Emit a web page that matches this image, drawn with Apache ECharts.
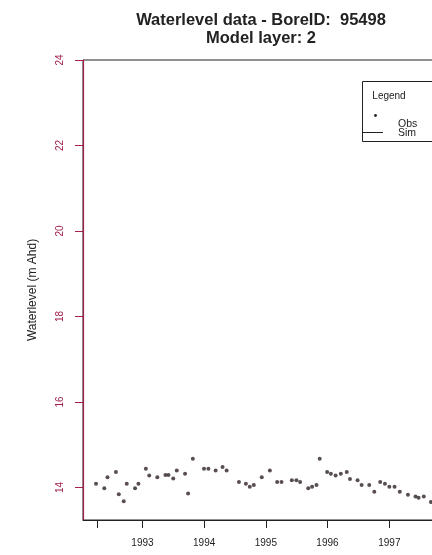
<!DOCTYPE html>
<html>
<head>
<meta charset="utf-8">
<script src="https://cdn.jsdelivr.net/npm/echarts@6/dist/echarts.min.js"></script>
<style>html,body{margin:0;padding:0;background:#fff}#c{width:432px;height:555px}</style>
</head>
<body>
<div id="c"></div>
<script>
const obsDates = [
  '1992-04-01','1992-05-20','1992-06-08','1992-07-28','1992-08-14','1992-09-12','1992-09-30','1992-11-18','1992-12-08',
  '1993-01-21','1993-02-10','1993-03-30','1993-05-17','1993-06-04','1993-07-02','1993-07-23','1993-09-10','1993-09-28','1993-10-26','1993-12-31',
  '1994-01-26','1994-03-10','1994-04-20','1994-05-14','1994-07-26','1994-09-05','1994-09-28','1994-10-22','1994-12-08',
  '1995-01-25','1995-03-09','1995-04-04','1995-06-04','1995-07-01','1995-07-23','1995-09-09','1995-10-02','1995-10-28','1995-11-16','1995-12-30',
  '1996-01-21','1996-02-18','1996-03-20','1996-04-24','1996-05-13','1996-06-27','1996-07-21','1996-09-04','1996-10-04','1996-11-08','1996-12-06',
  '1997-01-01','1997-02-01','1997-03-04','1997-04-21','1997-06-05','1997-06-23','1997-07-24','1997-09-04'
];
const obsLevels = [
  14.09,13.98,14.24,14.36,13.84,13.68,14.09,13.98,14.09,
  14.44,14.28,14.24,14.29,14.29,14.21,14.40,14.32,13.86,14.67,14.44,
  14.44,14.40,14.48,14.40,14.13,14.09,14.02,14.06,14.24,
  14.40,14.13,14.13,14.17,14.17,14.13,13.98,14.02,14.06,14.67,14.36,
  14.32,14.28,14.32,14.36,14.20,14.17,14.06,14.06,13.90,14.13,14.09,
  14.02,14.02,13.90,13.83,13.79,13.76,13.79,13.66
];
const simDates = [];
const simLevels = [];
const yTicks = [14, 16, 18, 20, 22, 24];
const xTickYears = [1993, 1994, 1995, 1996, 1997];
const firstTickDate = '1992-04-08';

const chart = echarts.init(document.getElementById('c'));
const ts = s => { const p = s.split('-'); return Date.UTC(+p[0], +p[1]-1, +p[2]); };
const yearTs = xTickYears.map(y => Date.UTC(y, 0, 1));
const crimson = '#a3204a';
const font = 'Liberation Sans';

chart.setOption({
  animation: false,
  backgroundColor: '#fff',
  title: [{
    text: 'Waterlevel data - BoreID:  95498\nModel layer: 2',
    left: 256, top: 6, textAlign: 'center',
    textStyle: {fontFamily: font, fontSize: 16.5, fontWeight: 'bold', color: '#222', lineHeight: 18}
  }],
  grid: {left: 83, top: 60, bottom: 35, width: 368, outerBoundsMode: 'none', show: true, borderColor: '#222', borderWidth: 1, containLabel: false},
  xAxis: {
    type: 'value', scale: true,
    min: ts('1992-01-15'), max: ts('1998-01-01'),
    axisLine: {show: true, lineStyle: {color: '#222', width: 1}},
    axisTick: {show: true, length: 8, lineStyle: {color: '#222'}, customValues: [ts(firstTickDate)].concat(yearTs)},
    axisLabel: {customValues: yearTs, formatter: v => String(new Date(v).getUTCFullYear()),
      margin: 18, fontFamily: font, fontSize: 10, color: '#222'},
    splitLine: {show: false}
  },
  yAxis: {
    type: 'value', min: 13.24, max: 24,
    name: 'Waterlevel (m Ahd)', nameLocation: 'middle', nameGap: 44, nameRotate: 90,
    nameTextStyle: {fontFamily: font, fontSize: 12, color: '#222'},
    axisLine: {show: true, lineStyle: {color: crimson, width: 1.2}},
    axisTick: {show: true, length: 8, lineStyle: {color: crimson}, customValues: yTicks},
    axisLabel: {customValues: yTicks, rotate: 90, margin: 18, fontFamily: font, fontSize: 10, color: crimson},
    splitLine: {show: false}
  },
  series: [
    {name: 'Obs', type: 'scatter', symbol: 'circle', symbolSize: 4,
      itemStyle: {color: '#2e2228'},
      data: obsDates.map((d, i) => [ts(d), obsLevels[i]])},
    {name: 'Sim', type: 'line', showSymbol: false, lineStyle: {color: '#000', width: 1},
      data: simDates.map((d, i) => [ts(d), simLevels[i]])}
  ],
  graphic: [
    {type: 'rect', shape: {x: 362.5, y: 81.5, width: 120, height: 60}, style: {fill: '#fff', stroke: '#222', lineWidth: 1}, z: 10},
    {type: 'text', x: 389, y: 96, style: {text: 'Legend', fontFamily: font, fontSize: 10, fill: '#222', align: 'center', verticalAlign: 'middle'}, z: 11},
    {type: 'circle', shape: {cx: 375.5, cy: 115.5, r: 1.4}, style: {fill: '#222'}, z: 11},
    {type: 'text', x: 398, y: 124, style: {text: 'Obs', fontFamily: font, fontSize: 10.5, fill: '#222', verticalAlign: 'middle'}, z: 11},
    {type: 'line', shape: {x1: 363, y1: 132.5, x2: 383, y2: 132.5}, style: {stroke: '#222', lineWidth: 1}, z: 11},
    {type: 'text', x: 398, y: 133, style: {text: 'Sim', fontFamily: font, fontSize: 10.5, fill: '#222', verticalAlign: 'middle'}, z: 11}
  ]
});
</script>
</body>
</html>
